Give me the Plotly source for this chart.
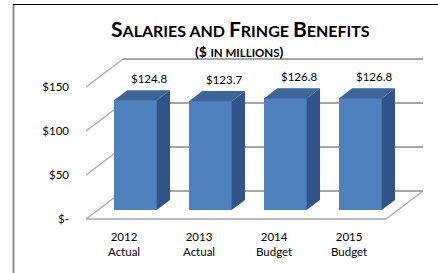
import plotly.graph_objects as go

# ---- data ----
years = ["2012", "2013", "2014", "2015"]
kinds = ["Actual", "Actual", "Budget", "Budget"]
values = [124.8, 123.7, 126.8, 126.8]
tick_vals = [0, 50, 100, 150]
tick_text = ["$-", "$50", "$100", "$150"]
value_labels = ["$124.8", "$123.7", "$126.8", "$126.8"]

# ---- pseudo-3D geometry (in axis units) ----
DX = 0.4933      # full depth shift along x (category units)
DY = 31.82       # full depth shift along y (value units)
D0, D1 = 0.32, 0.68   # bar front / back depth fraction
BW = 0.57        # bar width

FRONT = "#4F81BD"
SIDE = "#30538A"
TOP = "#3C6598"
GRID = "#A6A6A6"

n = len(values)
xs = list(range(n))
left, right = -0.5, n - 0.5

fig = go.Figure()
shapes = []

# back wall gridlines + left wall diagonals
for t in tick_vals:
    shapes.append(dict(type="line", xref="x", yref="y", layer="below",
                       x0=left + DX, y0=t + DY, x1=right + DX, y1=t + DY,
                       line=dict(color=GRID, width=2)))
    shapes.append(dict(type="line", xref="x", yref="y", layer="below",
                       x0=left, y0=t, x1=left + DX, y1=t + DY,
                       line=dict(color=GRID, width=1.2)))
# floor front edge and right edge
shapes.append(dict(type="line", xref="x", yref="y", layer="below",
                   x0=left, y0=0, x1=right, y1=0,
                   line=dict(color=GRID, width=1.5)))
shapes.append(dict(type="line", xref="x", yref="y", layer="below",
                   x0=right, y0=0, x1=right + DX, y1=DY,
                   line=dict(color=GRID, width=1.2)))

# front faces of the bars
fig.add_trace(go.Bar(
    x=[i + DX * D0 for i in xs], y=values, base=[DY * D0] * n, width=BW,
    marker=dict(color=FRONT, line=dict(width=0)), hoverinfo="skip",
    showlegend=False))

# side and top faces
for i, v in zip(xs, values):
    xl = i - BW / 2
    xr = i + BW / 2
    fig.add_trace(go.Scatter(
        x=[xr + DX * D0, xr + DX * D0, xr + DX * D1, xr + DX * D1, xr + DX * D0],
        y=[DY * D0, v + DY * D0, v + DY * D1, DY * D1, DY * D0],
        mode="lines", fill="toself", fillcolor=SIDE, line=dict(width=0, color=SIDE),
        hoverinfo="skip", showlegend=False))
    fig.add_trace(go.Scatter(
        x=[xl + DX * D0, xr + DX * D0, xr + DX * D1, xl + DX * D1, xl + DX * D0],
        y=[v + DY * D0, v + DY * D0, v + DY * D1, v + DY * D1, v + DY * D0],
        mode="lines", fill="toself", fillcolor=TOP, line=dict(width=0, color=TOP),
        hoverinfo="skip", showlegend=False))

annotations = []
# value labels
for i, v, lab in zip(xs, values, value_labels):
    annotations.append(dict(x=i + DX * D1, y=v + DY * D1, xref="x", yref="y",
                            text=lab, showarrow=False, yanchor="middle",
                            yshift=12, font=dict(size=11.5, color="#000000")))
# category labels
for i, yr, k in zip(xs, years, kinds):
    annotations.append(dict(x=i, y=0, xref="x", yref="y",
                            text=f"{yr}<br>{k}", showarrow=False,
                            yanchor="middle", yshift=-25,
                            font=dict(size=11.5, color="#000000")))

# title
L, R, T, B = 76, 8, 40, 43
W, H = 438, 273
pw, ph = W - L - R, H - T - B


def px(xp):
    return (xp - L) / pw


def py(yp):
    return (H - B - yp) / ph


big, small = 21, 16
title = (f"S<span style='font-size:{small}px'>ALARIES AND </span>F"
         f"<span style='font-size:{small}px'>RINGE </span>B"
         f"<span style='font-size:{small}px'>ENEFITS</span>")
annotations.append(dict(x=px(240), y=py(28), xref="paper", yref="paper",
                        text=f"<b>{title}</b>", showarrow=False,
                        xanchor="center", yanchor="middle",
                        font=dict(size=big, color="#000000")))
sub = "($ <span style='font-size:11.5px'>IN MILLIONS</span>)"
annotations.append(dict(x=px(239), y=py(52), xref="paper", yref="paper",
                        text=f"<b>{sub}</b>", showarrow=False,
                        xanchor="center", yanchor="middle",
                        font=dict(size=14, color="#000000")))

# chart border (extends past the visible window)
shapes.append(dict(type="line", xref="paper", yref="paper",
                   x0=px(13.5), y0=py(300), x1=px(13.5), y1=py(4),
                   line=dict(color="#8C8C8C", width=2)))
shapes.append(dict(type="line", xref="paper", yref="paper",
                   x0=px(13), y0=py(4.5), x1=px(460), y1=py(4.5),
                   line=dict(color="#000000", width=1)))

x0p = (L - 123.5) / 75
x1p = (W - R - 123.5) / 75
fig.update_layout(
    width=W, height=H, autosize=False,
    margin=dict(l=L, r=R, t=T, b=B, pad=0),
    paper_bgcolor="white", plot_bgcolor="rgba(0,0,0,0)",
    font=dict(family="Lato, 'Open Sans', sans-serif", color="#000000"),
    shapes=shapes, annotations=annotations, bargap=0,
    xaxis=dict(range=[x0p, x1p], showgrid=False, zeroline=False,
               showticklabels=False, ticks="", showline=False,
               fixedrange=True, automargin=False),
    yaxis=dict(range=[(219 - (H - B)) / 0.88, (219 - T) / 0.88],
               tickvals=tick_vals, ticktext=tick_text, ticks="",
               showgrid=False, zeroline=False, showline=False,
               tickfont=dict(size=11.5, color="#000000"), ticklabelstandoff=6,
               fixedrange=True, automargin=False),
)

fig.write_html("out.html", config={"displayModeBar": False},
               post_script="document.body.style.margin='0';")
